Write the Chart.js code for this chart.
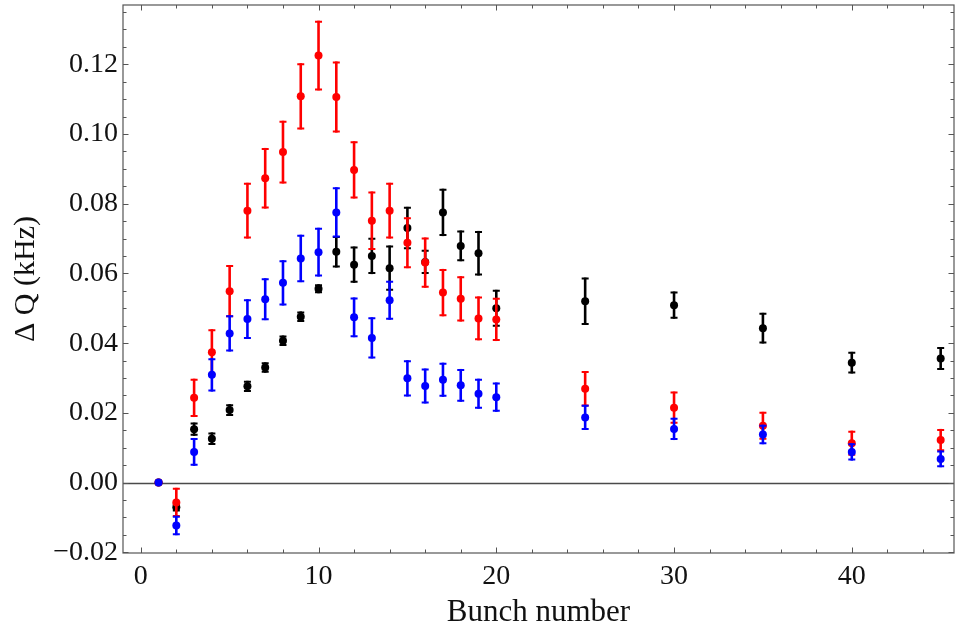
<!DOCTYPE html>
<html>
<head>
<meta charset="utf-8">
<script src="https://cdn.jsdelivr.net/npm/chart.js@4.4.0/dist/chart.umd.min.js"></script>
<style>
  html, body { margin: 0; padding: 0; background: #fff; }
</style>
</head>
<body>
<canvas id="bunchChart" width="956" height="631"></canvas>
<script>
// Bunch numbers (x)
const bunches = [1, 2, 3, 4, 5, 6, 7, 8, 9, 10, 11, 12, 13, 14, 15, 16, 17, 18, 19, 20, 25, 30, 35, 40, 45];

// Delta Q (kHz) and error half-widths
const blackDQ  = [0, -0.0071, 0.0153, 0.0126, 0.0208, 0.0276, 0.0330, 0.0407, 0.0476, 0.0556, 0.0662, 0.0625, 0.0650, 0.0615, 0.0730, 0.0633, 0.0775, 0.0679, 0.0658, 0.0500, 0.0520, 0.0509, 0.0443, 0.0344, 0.0356];
const blackErr = [0, 0.0012, 0.0019, 0.0018, 0.0017, 0.0016, 0.0015, 0.0015, 0.0015, 0.0013, 0.0045, 0.0052, 0.0052, 0.0065, 0.0061, 0.0035, 0.0068, 0.0044, 0.0064, 0.0053, 0.0068, 0.0039, 0.0044, 0.0031, 0.0033];

const redDQ  = [0, -0.0057, 0.0243, 0.0374, 0.0549, 0.0780, 0.0873, 0.0948, 0.1108, 0.1225, 0.1106, 0.0897, 0.0751, 0.0780, 0.0688, 0.0631, 0.0545, 0.0527, 0.0471, 0.0468, 0.0269, 0.0215, 0.0163, 0.0113, 0.0122];
const redErr = [0, 0.0042, 0.0055, 0.0066, 0.0075, 0.0080, 0.0087, 0.0090, 0.0095, 0.0100, 0.0102, 0.0082, 0.0084, 0.0080, 0.0073, 0.0072, 0.0068, 0.0065, 0.0063, 0.0062, 0.0051, 0.0046, 0.0040, 0.0036, 0.0032];

const blueDQ  = [0, -0.0123, 0.0088, 0.0309, 0.0428, 0.0469, 0.0526, 0.0573, 0.0643, 0.0661, 0.0775, 0.0474, 0.0415, 0.0523, 0.0299, 0.0277, 0.0295, 0.0279, 0.0255, 0.0245, 0.0187, 0.0154, 0.0138, 0.0088, 0.0068];
const blueErr = [0, 0.0028, 0.0040, 0.0048, 0.0052, 0.0057, 0.0060, 0.0065, 0.0068, 0.0070, 0.0072, 0.0057, 0.0059, 0.0056, 0.0052, 0.0050, 0.0049, 0.0047, 0.0043, 0.0042, 0.0036, 0.0032, 0.0028, 0.0025, 0.0024];

// Tick labels
const xTicks = [0, 10, 20, 30, 40];
const yTicks = [-0.02, 0, 0.02, 0.04, 0.06, 0.08, 0.10, 0.12];

const serif = '"Liberation Serif", "DejaVu Serif", serif';

function toPoints(ys) {
    return bunches.map((b, i) => ({ x: b, y: ys[i] }));
}

// error bars, drawn just before each dataset's points
const errorBars = {
    id: 'errorBars',
    beforeDatasetDraw(chart, args) {
        const ds = chart.data.datasets[args.index];
        const err = ds.errors;
        if (!err) return;
        const { ctx, scales: { x, y } } = chart;
        ctx.save();
        ctx.beginPath();
        ctx.rect(chart.chartArea.left, chart.chartArea.top, chart.chartArea.width, chart.chartArea.height);
        ctx.clip();
        ctx.strokeStyle = ds.borderColor;
        ds.data.forEach((p, i) => {
            if (!err[i]) return;
            const px = x.getPixelForValue(p.x);
            const top = y.getPixelForValue(p.y + err[i]);
            const bot = y.getPixelForValue(p.y - err[i]);
            ctx.lineWidth = 2.6;
            ctx.beginPath();
            ctx.moveTo(px, top);
            ctx.lineTo(px, bot);
            ctx.stroke();
            ctx.lineWidth = 2;
            ctx.beginPath();
            ctx.moveTo(px - 3.5, top + 1);
            ctx.lineTo(px + 3.5, top + 1);
            ctx.moveTo(px - 3.5, bot - 1);
            ctx.lineTo(px + 3.5, bot - 1);
            ctx.stroke();
        });
        ctx.restore();
    }
};

// zero line, frame and inward ticks
const frame = {
    id: 'frame',
    beforeDatasetsDraw(chart) {
        const { ctx, chartArea: a, scales: { y } } = chart;
        const y0 = Math.round(y.getPixelForValue(0)) + 0.5;
        ctx.save();
        ctx.strokeStyle = '#4a4a4a';
        ctx.lineWidth = 1.3;
        ctx.beginPath();
        ctx.moveTo(a.left, y0);
        ctx.lineTo(a.right, y0);
        ctx.stroke();
        ctx.restore();
    },
    afterDraw(chart) {
        const { ctx, chartArea: a, scales: { x, y } } = chart;
        ctx.save();
        ctx.strokeStyle = '#555';
        ctx.lineWidth = 1.2;
        ctx.strokeRect(a.left, a.top, a.right - a.left, a.bottom - a.top);
        ctx.lineWidth = 1;
        ctx.beginPath();
        for (let v = 0; v <= x.max; v += 2) {
            const len = v % 10 === 0 ? 5.5 : 3.5;
            const px = Math.round(x.getPixelForValue(v)) + 0.5;
            ctx.moveTo(px, a.bottom); ctx.lineTo(px, a.bottom - len);
            ctx.moveTo(px, a.top); ctx.lineTo(px, a.top + len);
        }
        for (let k = -4; k * 0.005 <= y.max; k++) {
            const v = k * 0.005;
            const len = k % 4 === 0 ? 5.5 : 3.5;
            const py = Math.round(y.getPixelForValue(v)) + 0.5;
            ctx.moveTo(a.left, py); ctx.lineTo(a.left + len, py);
            ctx.moveTo(a.right, py); ctx.lineTo(a.right - len, py);
        }
        ctx.stroke();
        ctx.restore();
    }
};

let ctx = document.getElementById('bunchChart').getContext('2d');
let bunchChart = new Chart(ctx, {
    type: 'scatter',
    data: {
        datasets: [
            {
                label: 'blue',
                data: toPoints(blueDQ),
                errors: blueErr,
                backgroundColor: '#0000ff',
                borderColor: '#0000ff'
            },
            {
                label: 'red',
                data: toPoints(redDQ),
                errors: redErr,
                backgroundColor: '#ff0000',
                borderColor: '#ff0000'
            },
            {
                label: 'black',
                data: toPoints(blackDQ),
                errors: blackErr,
                backgroundColor: '#000000',
                borderColor: '#000000'
            }
        ]
    },
    options: {
        responsive: false,
        animation: false,
        layout: { autoPadding: false, padding: { left: 0, top: 5, right: 2, bottom: 0 } },
        elements: { point: { radius: 4, borderWidth: 0, hoverRadius: 4 } },
        plugins: { legend: { display: false }, tooltip: { enabled: false } },
        scales: {
            x: {
                type: 'linear',
                min: -1,
                max: 45.75,
                afterFit(scale) {
                    scale.height = 78;
                    scale.paddingLeft = 0;
                    scale.paddingRight = 0;
                },
                afterBuildTicks(scale) { scale.ticks = xTicks.map(v => ({ value: v })); },
                grid: { display: false, drawTicks: false },
                border: { display: false },
                ticks: {
                    padding: 7,
                    color: '#111',
                    font: { family: serif, size: 28 },
                    callback: v => String(v)
                },
                title: {
                    display: true,
                    text: 'Bunch number',
                    color: '#111',
                    font: { family: serif, size: 31 },
                    padding: { top: 0, bottom: 0 }
                }
            },
            y: {
                type: 'linear',
                min: -0.0202,
                max: 0.137,
                afterFit(scale) {
                    scale.width = 123;
                    scale.paddingTop = 0;
                    scale.paddingBottom = 0;
                },
                afterBuildTicks(scale) { scale.ticks = yTicks.map(v => ({ value: v })); },
                grid: { display: false, drawTicks: false },
                border: { display: false },
                ticks: {
                    padding: 5,
                    color: '#111',
                    font: { family: serif, size: 28 },
                    callback: v => (v < 0 ? '\u2212' : '') + Math.abs(v).toFixed(2)
                },
                title: {
                    display: true,
                    text: '\u0394 Q (kHz)',
                    color: '#111',
                    font: { family: serif, size: 30 },
                    padding: { top: 8, bottom: 0 }
                }
            }
        }
    },
    plugins: [errorBars, frame]
});
</script>
</body>
</html>
